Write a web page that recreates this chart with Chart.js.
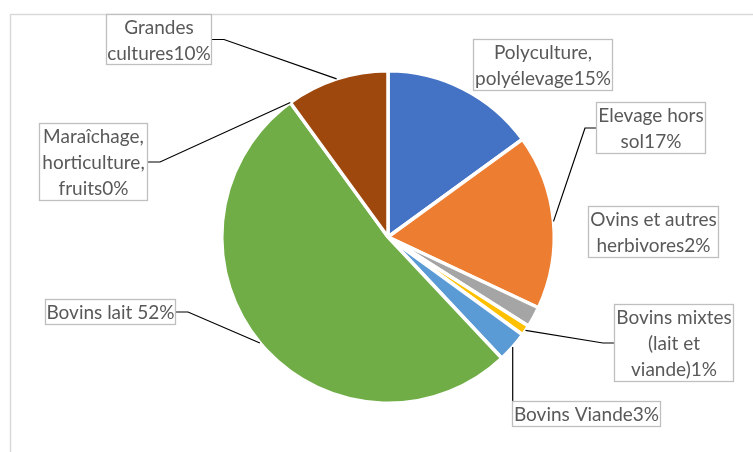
<!DOCTYPE html>
<html>
<head>
<meta charset="utf-8">
<script src="https://cdn.jsdelivr.net/npm/chart.js@4.4.0/dist/chart.umd.min.js"></script>
<style>
  html, body { margin: 0; padding: 0; background: #fff; }
  #wrap { width: 753px; height: 452px; position: relative; }
</style>
</head>
<body>
<div id="wrap"><canvas id="myChart" width="753" height="452"></canvas></div>
<script>
// categories (line breaks = how the label is wrapped in its box)
var categories = [
    'Polyculture,\npolyélevage',
    'Elevage hors\nsol',
    'Ovins et autres\nherbivores',
    'Bovins mixtes\n(lait et\nviande)',
    'Bovins Viande',
    'Bovins lait ',
    'Maraîchage,\nhorticulture,\nfruits',
    'Grandes\ncultures'
];
var values = [15, 17, 2, 1, 3, 52, 0, 10];
var colors = ['#4472C4', '#ED7D31', '#A5A5A5', '#FFC000', '#5B9BD5', '#70AD47', '#264478', '#9E480E'];

// label boxes: left, top, width, height, where the leader line joins
var labelBoxes = [
    { x: 473, y: 39,  w: 140, h: 52, side: null },
    { x: 596, y: 102, w: 110, h: 52, side: 'left' },
    { x: 588, y: 206, w: 131, h: 52, side: null },
    { x: 614, y: 304, w: 120, h: 78, side: 'left' },
    { x: 512, y: 401, w: 149, h: 26, side: 'top' },
    { x: 45,  y: 299, w: 131, h: 26, side: 'right' },
    { x: 39,  y: 123, w: 109, h: 78, side: 'right' },
    { x: 106, y: 14,  w: 106, h: 51, side: 'right' }
];

var FONT = '19px Lato, "Open Sans", sans-serif';
var LINE_H = 26;

var framePlugin = {
    id: 'frame',
    beforeDraw: function (chart) {
        var ctx = chart.ctx;
        ctx.save();
        ctx.strokeStyle = '#D9D9D9';
        ctx.lineWidth = 1.5;
        ctx.strokeRect(10.5, 14.5, 900, 600);
        ctx.restore();
    }
};

var labelPlugin = {
    id: 'pieLabels',
    afterDatasetsDraw: function (chart) {
        var ctx = chart.ctx;
        var arcs = chart.getDatasetMeta(0).data;
        ctx.save();
        arcs.forEach(function (arc, i) {
            var b = labelBoxes[i];
            var mid = (arc.startAngle + arc.endAngle) / 2;
            var px = arc.x + Math.cos(mid) * arc.outerRadius;
            var py = arc.y + Math.sin(mid) * arc.outerRadius;

            // leader line
            if (b.side) {
                ctx.beginPath();
                ctx.strokeStyle = '#000';
                ctx.lineWidth = 1.2;
                if (b.side === 'left') {
                    ctx.moveTo(b.x, b.y + b.h / 2);
                    ctx.lineTo(b.x - 11, b.y + b.h / 2);
                    ctx.lineTo(px, py);
                } else if (b.side === 'right') {
                    ctx.moveTo(b.x + b.w, b.y + b.h / 2);
                    ctx.lineTo(b.x + b.w + 12, b.y + b.h / 2);
                    ctx.lineTo(px, py);
                } else {
                    ctx.moveTo(px, py);
                    ctx.lineTo(px, b.y);
                }
                ctx.stroke();
            }

            // box
            ctx.fillStyle = '#fff';
            ctx.fillRect(b.x, b.y, b.w, b.h);
            ctx.strokeStyle = '#BFBFBF';
            ctx.lineWidth = 1.3;
            ctx.strokeRect(b.x + 0.5, b.y + 0.5, b.w - 1, b.h - 1);

            // text
            var text = categories[i] + values[i] + '%';
            var lines = text.split('\n');
            ctx.fillStyle = '#595959';
            ctx.font = FONT;
            ctx.textAlign = 'center';
            ctx.textBaseline = 'middle';
            var top = b.y + b.h / 2 - (lines.length * LINE_H) / 2;
            lines.forEach(function (ln, k) {
                ctx.fillText(ln, b.x + b.w / 2, top + LINE_H * k + LINE_H / 2 + 1);
            });
        });
        ctx.restore();
    }
};

const ctx = document.getElementById('myChart');
const myChart = new Chart(ctx, {
    type: 'pie',
    data: {
        labels: categories,
        datasets: [{
            data: values,
            backgroundColor: colors,
            borderColor: '#fff',
            borderWidth: 3.5,
            hoverBorderWidth: 3.5,
            hoverOffset: 0
        }]
    },
    options: {
        responsive: false,
        animation: false,
        events: [],
        layout: {
            padding: { top: 69, bottom: 47, left: 188, right: 165 }
        },
        plugins: {
            legend: { display: false },
            tooltip: { enabled: false }
        }
    },
    plugins: [framePlugin, labelPlugin]
});
</script>
</body>
</html>
